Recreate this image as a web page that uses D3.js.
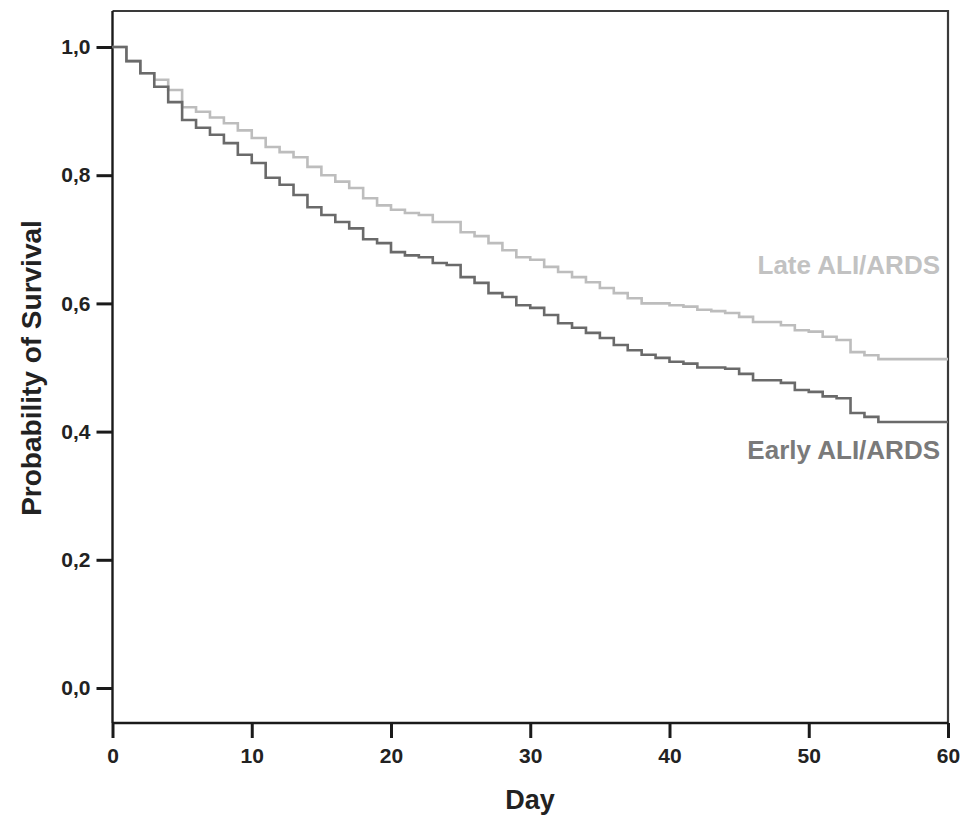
<!DOCTYPE html>
<html>
<head>
<meta charset="utf-8">
<script src="https://cdn.jsdelivr.net/npm/d3@7"></script>
<style>
  html, body { margin: 0; padding: 0; background: #fff; }
  svg { display: block; }
  text { font-family: "Liberation Sans", Arial, sans-serif; font-weight: bold; }
</style>
</head>
<body>
<svg id="chart" width="961" height="818"></svg>
<script>
// ---- Data ----
const days = [0,1,2,3,4,5,6,7,8,9,10,11,12,13,14,15,16,17,18,19,20,21,22,23,24,25,26,27,28,29,30,31,32,33,34,35,36,37,38,39,40,41,42,43,44,45,46,47,48,49,50,51,52,53,54,55,60];
const lateSurvival = [1.0,0.978,0.959,0.949,0.933,0.906,0.899,0.89,0.881,0.87,0.858,0.844,0.836,0.828,0.813,0.80,0.79,0.78,0.764,0.753,0.746,0.741,0.738,0.727,0.727,0.711,0.705,0.694,0.683,0.672,0.668,0.657,0.649,0.641,0.633,0.624,0.616,0.608,0.60,0.60,0.597,0.595,0.59,0.588,0.585,0.579,0.571,0.571,0.566,0.558,0.556,0.548,0.543,0.524,0.519,0.513,0.513];
const earlySurvival = [1.0,0.978,0.959,0.938,0.914,0.886,0.874,0.863,0.85,0.832,0.819,0.796,0.785,0.769,0.75,0.738,0.727,0.717,0.70,0.694,0.68,0.675,0.672,0.663,0.66,0.641,0.632,0.616,0.61,0.597,0.593,0.582,0.569,0.562,0.554,0.546,0.535,0.527,0.52,0.515,0.509,0.506,0.50,0.50,0.498,0.49,0.48,0.48,0.476,0.465,0.462,0.455,0.452,0.429,0.423,0.415,0.415];
const xTicks = [0,10,20,30,40,50,60];
const yTicks = [0,0.2,0.4,0.6,0.8,1.0];
const seriesNames = ["Late ALI/ARDS","Early ALI/ARDS"];
const xTitle = "Day";
const yTitle = "Probability of Survival";

// ---- Layout ----
const svg = d3.select("#chart");
const plotLeft = 112.5, plotRight = 948, plotTop = 11, plotBottom = 723;
const x = d3.scaleLinear().domain([0,60]).range([plotLeft, plotRight]);
const y = d3.scaleLinear().domain([0,1]).range([688, 47]);
const fmt = d => d3.format(".1f")(d).replace(".", ",");

// frame (top and right)
svg.append("path")
  .attr("d", `M${plotLeft},${plotTop}H${plotRight}V${plotBottom}`)
  .attr("fill","none").attr("stroke","#3a3a3a").attr("stroke-width",2.2);

// x axis
const xAxis = svg.append("g").attr("transform",`translate(0,${plotBottom})`)
  .call(d3.axisBottom(x).tickValues(xTicks).tickSize(15).tickPadding(10).tickFormat(d3.format("d")));
xAxis.select(".domain").attr("stroke","#1a1a1a").attr("stroke-width",2.4)
  .attr("d", `M${plotLeft},0H${plotRight}`);
xAxis.selectAll(".tick line").attr("stroke","#1a1a1a").attr("stroke-width",3);
xAxis.selectAll(".tick text").attr("font-size",21).attr("fill","#222")
  .style("font-family","'Liberation Sans', Arial, sans-serif").style("font-weight","bold");

// y axis
const yAxis = svg.append("g").attr("transform",`translate(${plotLeft},0)`)
  .call(d3.axisLeft(y).tickValues(yTicks).tickSize(16).tickPadding(6).tickFormat(fmt));
yAxis.select(".domain").attr("stroke","#1a1a1a").attr("stroke-width",2.4)
  .attr("d", `M0,${plotTop}V${plotBottom}`);
yAxis.selectAll(".tick line").attr("stroke","#1a1a1a").attr("stroke-width",3);
yAxis.selectAll(".tick text").attr("font-size",21).attr("fill","#222")
  .style("font-family","'Liberation Sans', Arial, sans-serif").style("font-weight","bold");

// survival step curves
const line = d3.line().x(d => x(d[0])).y(d => y(d[1])).curve(d3.curveStepAfter);
const lateData = days.map((d,i) => [d, lateSurvival[i]]);
const earlyData = days.map((d,i) => [d, earlySurvival[i]]);

svg.append("path").datum(lateData).attr("d", line)
  .attr("fill","none").attr("stroke","#bdbdbd").attr("stroke-width",2.6);
svg.append("path").datum(earlyData).attr("d", line)
  .attr("fill","none").attr("stroke","#6a6a6a").attr("stroke-width",2.6);

// series labels
svg.append("text").attr("x",940).attr("y",274).attr("text-anchor","end")
  .attr("font-size",26).attr("fill","#c2c2c2").text(seriesNames[0]);
svg.append("text").attr("x",940).attr("y",459).attr("text-anchor","end")
  .attr("font-size",26).attr("fill","#7a7a7a").text(seriesNames[1]);

// axis titles
svg.append("text").attr("x",530).attr("y",809).attr("text-anchor","middle")
  .attr("font-size",27).attr("fill","#222").text(xTitle);
svg.append("text").attr("transform","translate(41,368) rotate(-90)").attr("text-anchor","middle")
  .attr("font-size",28).attr("fill","#222").text(yTitle);
</script>
</body>
</html>
